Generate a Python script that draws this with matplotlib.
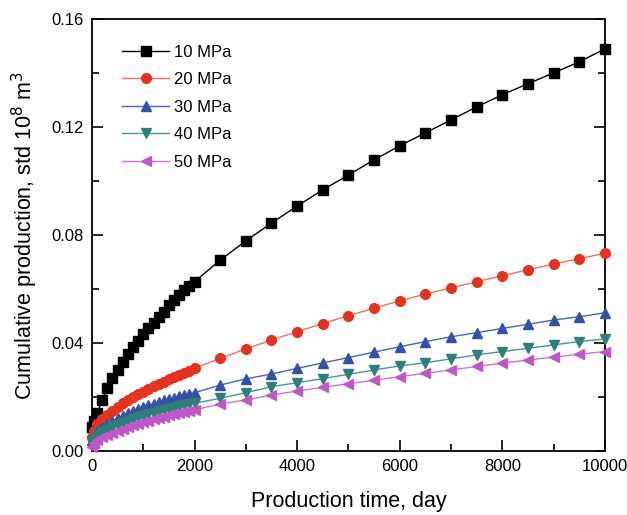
import matplotlib.pyplot as plt
import numpy as np
from matplotlib.ticker import MultipleLocator

plt.rcParams['font.family'] = ['Liberation Sans', 'DejaVu Sans']

# time steps, day
t_early = [1, 30]
t_dense = [100, 200, 300, 400, 500, 600, 700, 800, 900, 1000,
           1100, 1200, 1300, 1400, 1500, 1600, 1700, 1800, 1900, 2000]
t_sparse = [2500, 3000, 3500, 4000, 4500, 5000, 5500, 6000, 6500,
            7000, 7500, 8000, 8500, 9000, 9500, 10000]
days = t_early + t_dense + t_sparse

# cumulative production, std 1e8 m3
p10 = [0.0090, 0.0112,
       0.0140, 0.0189, 0.0232, 0.0269, 0.0300, 0.0331, 0.0359, 0.0384, 0.0409, 0.0433,
       0.0454, 0.0475, 0.0495, 0.0514, 0.0540, 0.0560, 0.0578, 0.0596, 0.0612, 0.0627,
       0.0707, 0.0778, 0.0844, 0.0907, 0.0967, 0.1022, 0.1078, 0.1130,
       0.1178, 0.1226, 0.1274, 0.1319, 0.1360, 0.1400, 0.1441, 0.1489]
p20 = [0.0050, 0.0075,
       0.0100, 0.0118, 0.0134, 0.0149, 0.0163, 0.0176, 0.0188, 0.0199, 0.0210, 0.0220,
       0.0230, 0.0239, 0.0248, 0.0257, 0.0265, 0.0273, 0.0281, 0.0290, 0.0298, 0.0306,
       0.0343, 0.0378, 0.0411, 0.0442, 0.0472, 0.0501, 0.0529, 0.0556,
       0.0581, 0.0604, 0.0627, 0.0649, 0.0671, 0.0692, 0.0712, 0.0732]
p30 = [0.0040, 0.0055,
       0.0075, 0.0088, 0.0100, 0.0111, 0.0121, 0.0130, 0.0139, 0.0147, 0.0155, 0.0162,
       0.0169, 0.0175, 0.0181, 0.0187, 0.0193, 0.0198, 0.0203, 0.0208, 0.0212, 0.0216,
       0.0244, 0.0267, 0.0285, 0.0306, 0.0326, 0.0346, 0.0366, 0.0386,
       0.0405, 0.0423, 0.0438, 0.0454, 0.0469, 0.0485, 0.0497, 0.0512]
p40 = [0.0030, 0.0045,
       0.0060, 0.0070, 0.0079, 0.0088, 0.0096, 0.0104, 0.0111, 0.0118, 0.0124, 0.0130,
       0.0136, 0.0142, 0.0147, 0.0152, 0.0157, 0.0161, 0.0165, 0.0169, 0.0173, 0.0177,
       0.0195, 0.0216, 0.0238, 0.0253, 0.0268, 0.0284, 0.0300, 0.0315,
       0.0327, 0.0341, 0.0356, 0.0368, 0.0380, 0.0393, 0.0405, 0.0415]
p50 = [0.0015, 0.0028,
       0.0040, 0.0050, 0.0059, 0.0067, 0.0075, 0.0082, 0.0089, 0.0095, 0.0101, 0.0107,
       0.0112, 0.0117, 0.0122, 0.0127, 0.0132, 0.0136, 0.0140, 0.0144, 0.0148, 0.0152,
       0.0174, 0.0189, 0.0207, 0.0222, 0.0236, 0.0249, 0.0262, 0.0275,
       0.0288, 0.0300, 0.0313, 0.0325, 0.0337, 0.0348, 0.0358, 0.0368]

labels = ['10 MPa', '20 MPa', '30 MPa', '40 MPa', '50 MPa']
series = [p10, p20, p30, p40, p50]
markers = ['s', 'o', '^', 'v', '<']
mcolors = ['#000000', '#E5321F', '#3550A8', '#2E7F7B', '#BE58C6']
lcolors = ['#000000', '#F07060', '#4A62B8', '#4A9590', '#C878D0']

fig = plt.figure(figsize=(6.27, 5.15), dpi=100)
ax = fig.add_axes([0.1467, 0.1243, 0.818, 0.839])

for y, lab, m, mc, lc in zip(series, labels, markers, mcolors, lcolors):
    ax.plot(days, y, color=lc, lw=1.0, marker=m, ms=7, mfc=mc, mec=mc,
            label=lab, clip_on=False, zorder=3)

ax.set_xlim(0, 10000)
ax.set_ylim(0, 0.16)
ax.xaxis.set_major_locator(MultipleLocator(2000))
ax.xaxis.set_minor_locator(MultipleLocator(1000))
ax.yaxis.set_major_locator(MultipleLocator(0.04))
ax.yaxis.set_minor_locator(MultipleLocator(0.02))
ax.yaxis.set_major_formatter(plt.FormatStrFormatter('%.2f'))
ax.tick_params(which='both', direction='in', top=False, right=True, labelsize=12, width=1.2)
ax.tick_params(which='major', length=8, pad=6)
ax.tick_params(which='minor', length=5)
for s in ax.spines.values():
    s.set_linewidth(1.3)

ax.set_xlabel('Production time, day', fontsize=15.5, labelpad=12)
ax.set_ylabel('Cumulative production, std 10$^{8}$ m$^{3}$', fontsize=15.5, labelpad=8)

ax.legend(loc='upper left', bbox_to_anchor=(0.03, 0.975), frameon=False, fontsize=12,
          handlelength=2.8, handletextpad=0.3, labelspacing=0.75)

plt.savefig('out.png', dpi=100)
